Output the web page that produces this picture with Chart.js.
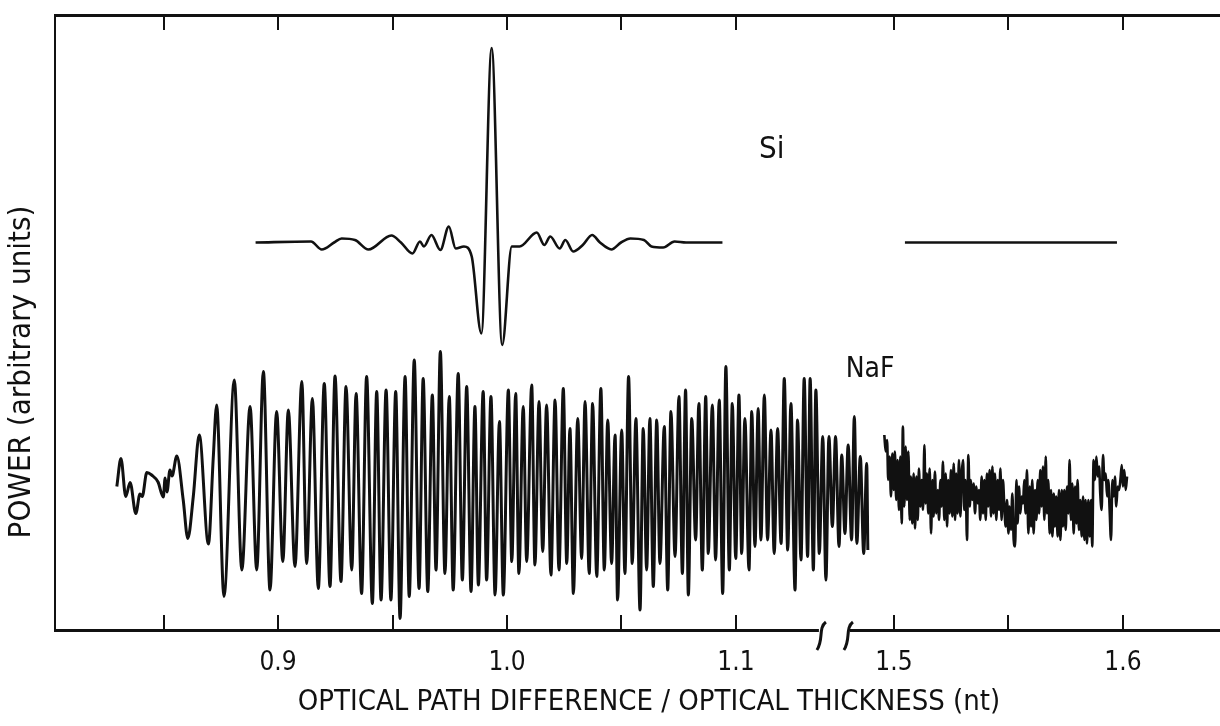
<!DOCTYPE html>
<html>
<head>
<meta charset="utf-8">
<title>Si / NaF power vs optical path difference</title>
<script src="https://cdn.jsdelivr.net/npm/chart.js"></script>
<style>
  html, body { margin: 0; padding: 0; background: #fff; overflow: hidden; }
  canvas { display: block; }
</style>
</head>
<body>
<canvas id="chart" width="1220" height="726"></canvas>
<script>
'use strict';

const FONT = "'DejaVu Sans Condensed', 'Liberation Sans Narrow', 'DejaVu Sans', sans-serif";
const INK = '#111';

// x axis ticks (nt); labels only on the major ones
const tickValues = [0.85, 0.9, 0.95, 1.0, 1.05, 1.1, 1.5, 1.55, 1.6];
const tickLabels = ['', '0.9', '', '1.0', '', '1.1', '1.5', '', '1.6'];
const BREAK_AT = 1.3;     // values above this are drawn right of the axis break
const BREAK_SHIFT = 0.331; // how much of the axis is cut out by the break
const breakMarks = [1.1371, 1.1489]; // where the "( (" marks sit (axis units)

// Si trace, left part
const siX = [0.8902, 0.9144, 0.9191, 0.9245, 0.9278, 0.9336, 0.9395, 0.9495, 0.9537, 0.9587,
  0.9620, 0.9637, 0.9670, 0.9709, 0.9746, 0.9776, 0.9812, 0.9846, 0.9888, 0.9933,
  0.9979, 1.0021, 1.0055, 1.0130, 1.0163, 1.0189, 1.0230, 1.0255, 1.0289, 1.0331,
  1.0372, 1.0406, 1.0456, 1.0498, 1.0539, 1.0598, 1.0631, 1.0682, 1.0732, 1.0782, 1.0941];
const siY = [77.5, 77.7, 76.1, 77.5, 78.3, 78.0, 76.1, 78.9, 77.5, 75.3,
  77.7, 76.7, 79.0, 76.0, 80.7, 76.3, 76.7, 74.7, 59.3, 116.4,
  57.0, 76.7, 76.7, 79.5, 77.0, 78.7, 76.3, 78.0, 75.7, 77.0,
  79.0, 77.5, 76.1, 77.5, 78.3, 78.0, 76.7, 76.5, 77.7, 77.5, 77.5];
// Si trace, right of the break
const siX2 = [1.5048, 1.5974];
const siY2 = [77.5, 77.5];

// NaF trace, left part (peaks and troughs)
const nafX = [0.8296, 0.8314, 0.8335, 0.8354, 0.8379, 0.8397, 0.8407, 0.8427, 0.8448, 0.8476,
  0.8499, 0.8507, 0.8515, 0.8528, 0.8537, 0.8558, 0.8586, 0.8606, 0.8630, 0.8656,
  0.8696, 0.8717, 0.8732, 0.8764, 0.8809, 0.8842, 0.8878, 0.8907, 0.8936, 0.8965,
  0.8994, 0.9021, 0.9045, 0.9074, 0.9104, 0.9125, 0.9150, 0.9176, 0.9202, 0.9227,
  0.9249, 0.9275, 0.9297, 0.9322, 0.9341, 0.9365, 0.9387, 0.9412, 0.9431, 0.9450,
  0.9472, 0.9493, 0.9514, 0.9533, 0.9555, 0.9573, 0.9595, 0.9616, 0.9634, 0.9654,
  0.9674, 0.9690, 0.9709, 0.9729, 0.9748, 0.9765, 0.9787, 0.9805, 0.9824, 0.9843,
  0.9860, 0.9875, 0.9896, 0.9911, 0.9930, 0.9948, 0.9967, 0.9984, 1.0006, 1.0021,
  1.0038, 1.0052, 1.0071, 1.0086, 1.0108, 1.0122, 1.0140, 1.0156, 1.0173, 1.0192,
  1.0210, 1.0227, 1.0246, 1.0261, 1.0275, 1.0290, 1.0309, 1.0326, 1.0341, 1.0359,
  1.0374, 1.0392, 1.0410, 1.0425, 1.0440, 1.0457, 1.0472, 1.0483, 1.0501, 1.0515,
  1.0531, 1.0547, 1.0563, 1.0581, 1.0595, 1.0610, 1.0624, 1.0639, 1.0654, 1.0668,
  1.0687, 1.0702, 1.0716, 1.0734, 1.0751, 1.0766, 1.0780, 1.0792, 1.0807, 1.0824,
  1.0838, 1.0853, 1.0868, 1.0879, 1.0897, 1.0911, 1.0927, 1.0942, 1.0956, 1.0971,
  1.0984, 1.0999, 1.1013, 1.1025, 1.1039, 1.1057, 1.1069, 1.1083, 1.1097, 1.1109,
  1.1124, 1.1138, 1.1153, 1.1167, 1.1182, 1.1197, 1.1211, 1.1226, 1.1240, 1.1258,
  1.1269, 1.1284, 1.1298, 1.1313, 1.1324, 1.1338, 1.1349, 1.1364, 1.1379, 1.1393,
  1.1406, 1.1421, 1.1435, 1.1450, 1.1462, 1.1476, 1.1490, 1.1505, 1.1517, 1.1528,
  1.1543, 1.1558, 1.1571, 1.1576];
const nafY = [28.7, 34.3, 26.7, 29.5, 23.3, 27.2, 26.7, 31.5, 31.0, 29.6,
  26.6, 30.4, 27.6, 32.0, 30.8, 34.8, 26.0, 18.3, 26.7, 39.0,
  17.2, 34.3, 45.0, 6.7, 50.0, 12.0, 44.7, 12.0, 51.7, 8.0,
  43.7, 13.7, 44.0, 12.7, 49.7, 13.3, 46.3, 8.3, 49.3, 8.7,
  50.8, 9.7, 48.7, 12.0, 47.3, 7.3, 50.7, 5.3, 47.7, 6.0,
  48.0, 6.0, 47.7, 2.3, 50.7, 6.7, 54.0, 8.3, 50.3, 7.7,
  47.0, 12.0, 55.7, 11.3, 46.7, 8.0, 51.3, 10.0, 48.7, 7.7,
  44.7, 9.0, 47.7, 10.0, 46.7, 7.0, 41.7, 7.0, 48.0, 13.7,
  47.3, 11.3, 44.7, 13.7, 49.0, 13.0, 45.7, 15.7, 45.0, 11.0,
  46.0, 12.0, 48.3, 13.3, 40.3, 7.3, 42.3, 14.3, 45.7, 11.3,
  45.3, 10.7, 48.3, 12.0, 42.0, 13.3, 39.0, 6.0, 40.0, 11.3,
  50.7, 13.3, 42.3, 4.0, 40.3, 12.0, 42.3, 8.7, 42.0, 13.3,
  40.7, 8.0, 43.7, 14.7, 46.7, 11.3, 48.0, 7.0, 42.3, 18.0,
  45.3, 12.0, 46.7, 15.3, 45.0, 14.0, 46.0, 7.3, 52.7, 12.0,
  45.3, 14.3, 47.0, 15.3, 42.3, 12.0, 43.7, 16.7, 44.3, 18.0,
  47.0, 18.0, 40.0, 15.3, 40.3, 17.3, 50.3, 16.0, 45.3, 8.0,
  42.0, 14.0, 50.3, 14.7, 50.3, 12.0, 48.0, 15.3, 38.7, 10.0,
  38.7, 20.7, 38.7, 16.7, 35.0, 19.3, 37.0, 18.0, 42.7, 17.3,
  34.7, 15.3, 33.3, 16.0];

// NaF trace, right of the break (noisy band)
const naf2X = [1.4958, 1.4964, 1.4970, 1.4975, 1.4981, 1.4987, 1.4993, 1.4999, 1.5004, 1.5010,
  1.5016, 1.5022, 1.5028, 1.5034, 1.5039, 1.5045, 1.5051, 1.5057, 1.5063, 1.5069,
  1.5074, 1.5080, 1.5086, 1.5092, 1.5098, 1.5104, 1.5109, 1.5115, 1.5121, 1.5127,
  1.5133, 1.5138, 1.5144, 1.5150, 1.5156, 1.5162, 1.5168, 1.5173, 1.5179, 1.5185,
  1.5191, 1.5197, 1.5203, 1.5208, 1.5214, 1.5220, 1.5226, 1.5232, 1.5237, 1.5243,
  1.5249, 1.5255, 1.5261, 1.5267, 1.5272, 1.5278, 1.5284, 1.5290, 1.5296, 1.5302,
  1.5307, 1.5313, 1.5319, 1.5325, 1.5331, 1.5336, 1.5342, 1.5348, 1.5354, 1.5360,
  1.5366, 1.5371, 1.5377, 1.5383, 1.5389, 1.5395, 1.5401, 1.5406, 1.5412, 1.5418,
  1.5424, 1.5430, 1.5435, 1.5441, 1.5447, 1.5453, 1.5459, 1.5465, 1.5470, 1.5476,
  1.5482, 1.5488, 1.5494, 1.5500, 1.5505, 1.5511, 1.5517, 1.5523, 1.5529, 1.5535,
  1.5540, 1.5546, 1.5552, 1.5558, 1.5564, 1.5569, 1.5575, 1.5581, 1.5587, 1.5593,
  1.5599, 1.5604, 1.5610, 1.5616, 1.5622, 1.5628, 1.5634, 1.5639, 1.5645, 1.5651,
  1.5657, 1.5663, 1.5668, 1.5674, 1.5680, 1.5686, 1.5692, 1.5698, 1.5703, 1.5709,
  1.5715, 1.5721, 1.5727, 1.5733, 1.5738, 1.5744, 1.5750, 1.5756, 1.5762, 1.5767,
  1.5773, 1.5779, 1.5785, 1.5791, 1.5797, 1.5802, 1.5808, 1.5814, 1.5820, 1.5826,
  1.5832, 1.5837, 1.5843, 1.5849, 1.5855, 1.5861, 1.5866, 1.5872, 1.5878, 1.5884,
  1.5890, 1.5896, 1.5901, 1.5907, 1.5913, 1.5919, 1.5925, 1.5931, 1.5936, 1.5942,
  1.5948, 1.5954, 1.5960, 1.5965, 1.5971, 1.5977, 1.5983, 1.5989, 1.5995, 1.6000,
  1.6006, 1.6012, 1.6018];
const naf2Y = [39.0, 35.7, 38.0, 30.0, 34.7, 26.7, 35.3, 28.0, 35.7, 26.0,
  34.0, 24.0, 34.7, 21.3, 40.7, 24.7, 36.7, 26.0, 35.7, 22.0,
  30.7, 21.3, 31.3, 20.3, 30.7, 22.0, 32.3, 24.7, 30.0, 24.0,
  37.0, 25.3, 31.3, 23.3, 32.3, 19.3, 30.0, 22.7, 31.7, 23.3,
  28.0, 22.0, 30.0, 24.7, 33.7, 22.0, 31.3, 20.7, 30.0, 23.3,
  32.0, 22.7, 33.3, 22.0, 31.3, 23.3, 34.0, 22.7, 31.3, 34.0,
  24.0, 30.0, 18.0, 35.0, 24.7, 30.0, 26.0, 29.3, 23.3, 28.7,
  25.3, 28.0, 22.0, 30.7, 23.3, 30.0, 22.0, 31.3, 24.7, 32.0,
  22.7, 32.7, 23.3, 31.3, 22.0, 30.0, 24.0, 32.3, 22.0, 30.0,
  24.7, 20.7, 26.0, 19.3, 24.7, 20.0, 27.3, 18.0, 16.7, 30.0,
  21.3, 28.7, 23.3, 26.7, 25.3, 30.0, 23.3, 32.0, 19.3, 28.7,
  20.7, 30.0, 19.3, 28.0, 22.0, 30.0, 23.3, 32.0, 24.7, 32.7,
  22.0, 34.7, 23.3, 30.0, 19.3, 28.0, 18.7, 27.3, 20.7, 26.7,
  18.7, 28.0, 18.0, 28.0, 20.7, 28.0, 20.0, 28.7, 23.3, 34.0,
  22.0, 29.3, 19.3, 28.7, 21.3, 30.0, 20.0, 26.0, 18.7, 26.7,
  18.0, 26.0, 17.3, 26.0, 18.7, 26.0, 16.7, 34.0, 30.0, 34.7,
  30.7, 32.7, 27.3, 24.0, 35.0, 30.0, 31.3, 26.7, 30.0, 24.0,
  18.0, 30.0, 26.7, 30.7, 24.7, 28.7, 28.0, 30.0, 33.0, 28.7,
  32.0, 28.0, 30.7];

// label placement (axis units)
const textLabels = [
  { text: 'Si', x: 1.1101, y: 94.4, size: 31 },
  { text: 'NaF', x: 1.1479, y: 50.6, size: 28 },
];

const toAxis = (v) => (v > BREAK_AT ? v - BREAK_SHIFT : v);
const points = (xs, ys) => xs.map((x, i) => ({ x: toAxis(x), y: ys[i] }));

const trace = (label, data, width) => ({
  label,
  data,
  borderColor: INK,
  borderWidth: width,
  pointRadius: 0,
  fill: false,
  cubicInterpolationMode: 'monotone',
});

const X_MIN = 0.8026;
const X_MAX = 1.3114;

const decor = {
  id: 'decor',
  afterDraw(chart) {
    const { ctx, chartArea: a, scales: { x, y } } = chart;
    ctx.save();
    ctx.strokeStyle = INK;
    ctx.fillStyle = INK;

    // inward tick marks on bottom and top
    ctx.lineWidth = 2;
    tickValues.forEach((v) => {
      const px = Math.round(x.getPixelForValue(toAxis(v)));
      ctx.beginPath();
      ctx.moveTo(px, a.bottom);
      ctx.lineTo(px, a.bottom - 15);
      ctx.moveTo(px, a.top);
      ctx.lineTo(px, a.top + 15);
      ctx.stroke();
    });

    // axis break
    const b0 = x.getPixelForValue(breakMarks[0]);
    const b1 = x.getPixelForValue(breakMarks[1]);
    ctx.fillStyle = '#fff';
    ctx.fillRect(b0 - 2, a.bottom - 3, b1 - b0 + 4, 6);
    ctx.lineWidth = 3;
    [b0, b1].forEach((bx) => {
      ctx.beginPath();
      ctx.moveTo(bx + 5, a.bottom - 8);
      ctx.bezierCurveTo(bx - 3, a.bottom - 2, bx + 3, a.bottom + 10, bx - 4, a.bottom + 20);
      ctx.stroke();
    });

    // series labels
    ctx.fillStyle = INK;
    ctx.textBaseline = 'alphabetic';
    ctx.textAlign = 'left';
    textLabels.forEach((t) => {
      ctx.font = `${t.size}px ${FONT}`;
      ctx.fillText(t.text, x.getPixelForValue(t.x), y.getPixelForValue(t.y));
    });

    // axis titles
    ctx.font = `29px ${FONT}`;
    ctx.textAlign = 'center';
    ctx.textBaseline = 'middle';
    ctx.fillText('OPTICAL PATH DIFFERENCE / OPTICAL THICKNESS (nt)', 649, 702);
    ctx.font = `31px ${FONT}`;
    ctx.translate(22, 372);
    ctx.rotate(-Math.PI / 2);
    ctx.fillText('POWER (arbitrary units)', 0, 0);
    ctx.restore();
  },
};

new Chart(document.getElementById('chart'), {
  type: 'line',
  data: {
    datasets: [
      trace('Si', points(siX, siY), 2.6),
      trace('Si (after break)', points(siX2, siY2), 2.6),
      trace('NaF', points(nafX, nafY), 3),
      trace('NaF (after break)', points(naf2X, naf2Y), 2.6),
    ],
  },
  options: {
    responsive: false,
    animation: false,
    events: [],
    layout: { padding: { left: 55, right: 0, top: 0, bottom: 0 } },
    plugins: { legend: { display: false }, tooltip: { enabled: false } },
    scales: {
      x: {
        type: 'linear',
        position: 'bottom',
        min: X_MIN,
        max: X_MAX,
        afterBuildTicks: (scale) => {
          scale.ticks = tickValues.map((v) => ({ value: toAxis(v) }));
        },
        afterFit: (scale) => { scale.height = 96; },
        grid: { display: false, drawTicks: false },
        border: { display: true, color: INK, width: 3 },
        ticks: {
          autoSkip: false,
          maxRotation: 0,
          padding: 18,
          color: INK,
          font: { family: FONT, size: 26 },
          callback: (value, index) => tickLabels[index],
        },
      },
      x2: {
        type: 'linear',
        position: 'top',
        min: X_MIN,
        max: X_MAX,
        afterFit: (scale) => { scale.height = 15; },
        grid: { display: false, drawTicks: false },
        border: { display: true, color: INK, width: 3 },
        ticks: { display: false },
      },
      y: {
        type: 'linear',
        position: 'left',
        min: 0,
        max: 123,
        afterFit: (scale) => { scale.width = 0; },
        grid: { display: false, drawTicks: false },
        border: { display: true, color: INK, width: 2 },
        ticks: { display: false },
      },
    },
  },
  plugins: [decor],
});
</script>
</body>
</html>
